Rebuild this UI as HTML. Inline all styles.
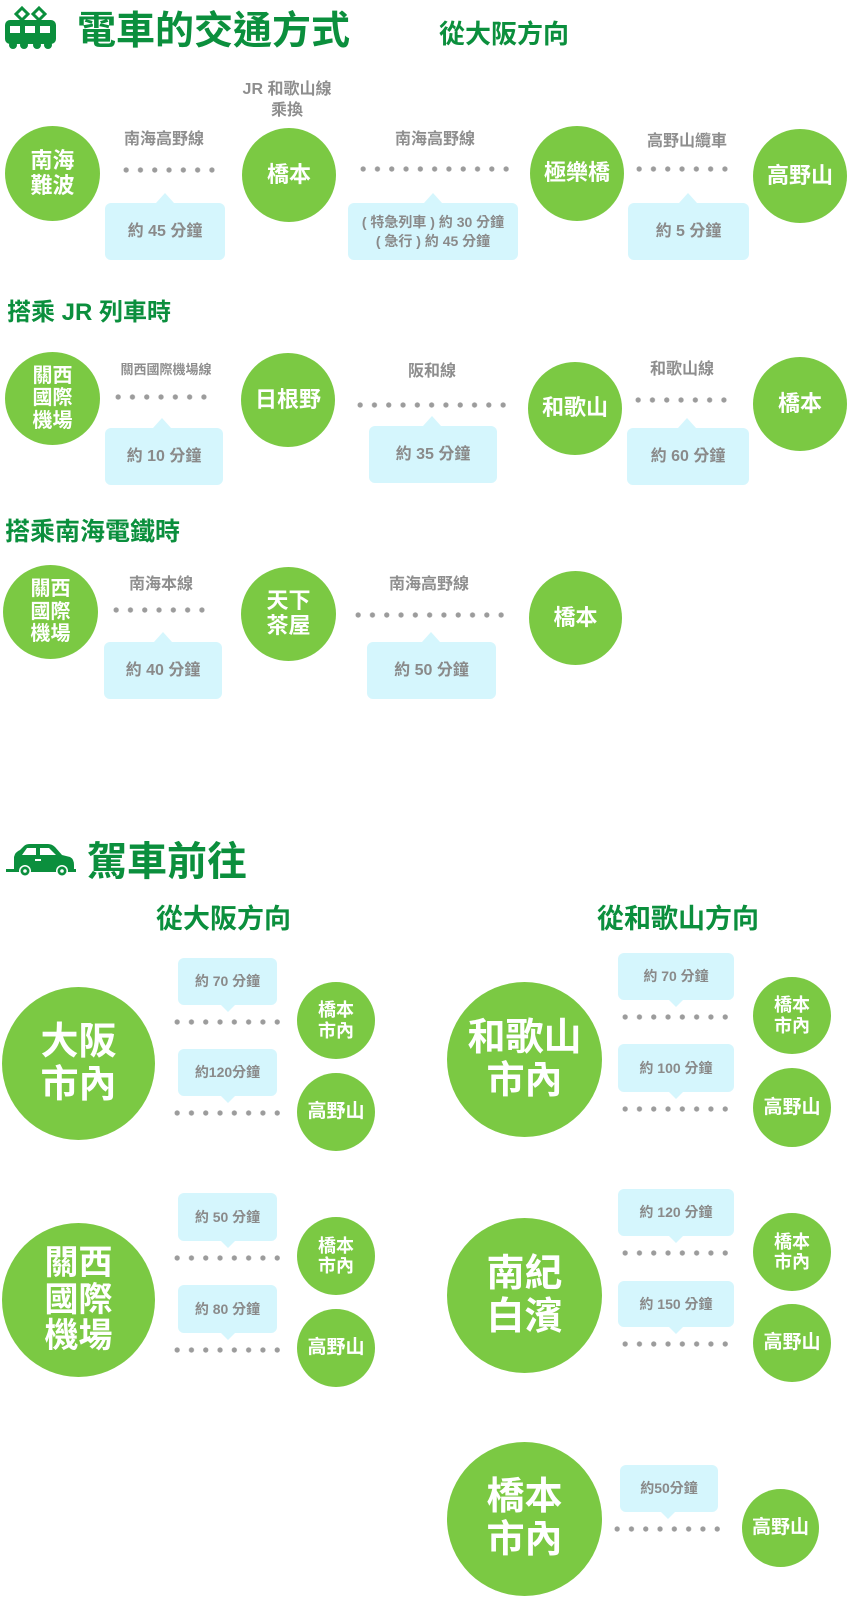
<!DOCTYPE html>
<html><head><meta charset="utf-8">
<style>
*{margin:0;padding:0;box-sizing:border-box}
body{width:847px;height:1602px;background:#fff;position:relative;overflow:hidden;font-family:"Liberation Sans","Noto Sans CJK TC",sans-serif;font-weight:bold}
.a{position:absolute}
.h{position:absolute;color:#0b8f3d;white-space:nowrap;line-height:1}
.c{position:absolute;border-radius:50%;background:#7bc943;color:#fff;display:flex;align-items:center;justify-content:center;text-align:center;line-height:1.12}
.l{position:absolute;color:#8e8e8e;white-space:nowrap;text-align:center;transform:translateX(-50%);font-size:16px;line-height:1.3}
.d{position:absolute;height:6px;background:radial-gradient(circle at center,#9c9c9c 2.3px,transparent 2.9px);background-size:14.3px 6px}
.b{position:absolute;background:#d5f6fd;border-radius:6px;color:#8a8a8a;display:flex;align-items:center;justify-content:center;text-align:center;white-space:nowrap;font-size:16px;line-height:1.35}
.tu{position:absolute;width:0;height:0;border-left:9px solid transparent;border-right:9px solid transparent;border-bottom:10px solid #d5f6fd}
.td{position:absolute;width:0;height:0;border-left:8px solid transparent;border-right:8px solid transparent;border-top:8px solid #d5f6fd}
</style></head><body>

<!-- train icon -->
<svg class="a" style="left:4px;top:5px" width="53" height="44" viewBox="0 0 53 44">
<path d="M18 3 L24 9 L18 15 L12 9 Z M35 3 L41 9 L35 15 L29 9 Z" fill="none" stroke="#0b8f3d" stroke-width="3"/>
<rect x="1" y="15" width="51" height="24" rx="5" fill="#0b8f3d"/>
<rect x="6" y="21" width="10" height="7" fill="#fff"/><rect x="21" y="21" width="10" height="7" fill="#fff"/><rect x="36" y="21" width="10" height="7" fill="#fff"/>
<circle cx="9" cy="40" r="4" fill="#0b8f3d"/><circle cx="20" cy="40" r="4" fill="#0b8f3d"/><circle cx="33" cy="40" r="4" fill="#0b8f3d"/><circle cx="44" cy="40" r="4" fill="#0b8f3d"/>
</svg>
<div class="h" style="left:77px;top:12px;font-size:39px">電車的交通方式</div>
<div class="h" style="left:439px;top:21px;font-size:26px">從大阪方向</div>

<!-- row1 -->
<div class="c" style="left:5px;top:126px;width:95px;height:95px;font-size:22px">南海<br>難波</div>
<div class="c" style="left:242px;top:128px;width:94px;height:94px;font-size:22px">橋本</div>
<div class="c" style="left:530px;top:126px;width:94px;height:95px;font-size:22px">極樂橋</div>
<div class="c" style="left:753px;top:129px;width:94px;height:94px;font-size:22px">高野山</div>
<div class="l" style="left:164px;top:130px">南海高野線</div>
<div class="l" style="left:287px;top:80px">JR 和歌山線<br>乘換</div>
<div class="l" style="left:435px;top:130px">南海高野線</div>
<div class="l" style="left:687px;top:132px">高野山纜車</div>
<div class="d" style="left:119px;top:167px;width:100px"></div>
<div class="d" style="left:356px;top:166px;width:158px"></div>
<div class="d" style="left:632px;top:166px;width:100px"></div>
<div class="tu" style="left:156px;top:193px"></div>
<div class="b" style="left:105px;top:203px;width:120px;height:57px">約 45 分鐘</div>
<div class="tu" style="left:424px;top:193px"></div>
<div class="b" style="left:348px;top:203px;width:170px;height:57px;font-size:14px">( 特急列車 ) 約 30 分鐘<br>( 急行 ) 約 45 分鐘</div>
<div class="tu" style="left:679px;top:193px"></div>
<div class="b" style="left:628px;top:203px;width:121px;height:57px">約 5 分鐘</div>

<!-- row2 -->
<div class="h" style="left:7px;top:301px;font-size:24px">搭乘 JR 列車時</div>
<div class="c" style="left:5px;top:352px;width:95px;height:93px;font-size:20px">關西<br>國際<br>機場</div>
<div class="c" style="left:241px;top:353px;width:94px;height:94px;font-size:22px">日根野</div>
<div class="c" style="left:528px;top:362px;width:94px;height:93px;font-size:22px">和歌山</div>
<div class="c" style="left:753px;top:357px;width:94px;height:94px;font-size:22px">橋本</div>
<div class="l" style="left:166px;top:362px;font-size:13px">關西國際機場線</div>
<div class="l" style="left:432px;top:362px">阪和線</div>
<div class="l" style="left:682px;top:360px">和歌山線</div>
<div class="d" style="left:111px;top:394px;width:100px"></div>
<div class="d" style="left:353px;top:402px;width:157px"></div>
<div class="d" style="left:631px;top:397px;width:100px"></div>
<div class="tu" style="left:153px;top:418px"></div>
<div class="b" style="left:105px;top:428px;width:118px;height:57px">約 10 分鐘</div>
<div class="tu" style="left:423px;top:416px"></div>
<div class="b" style="left:369px;top:426px;width:128px;height:57px">約 35 分鐘</div>
<div class="tu" style="left:678px;top:418px"></div>
<div class="b" style="left:627px;top:428px;width:122px;height:57px">約 60 分鐘</div>

<!-- row3 -->
<div class="h" style="left:5px;top:520px;font-size:25px">搭乘南海電鐵時</div>
<div class="c" style="left:3px;top:565px;width:95px;height:94px;font-size:20px">關西<br>國際<br>機場</div>
<div class="c" style="left:241px;top:567px;width:95px;height:94px;font-size:22px">天下<br>茶屋</div>
<div class="c" style="left:529px;top:571px;width:93px;height:94px;font-size:22px">橋本</div>
<div class="l" style="left:161px;top:575px">南海本線</div>
<div class="l" style="left:429px;top:575px">南海高野線</div>
<div class="d" style="left:109px;top:607px;width:100px"></div>
<div class="d" style="left:351px;top:612px;width:157px"></div>
<div class="tu" style="left:154px;top:632px"></div>
<div class="b" style="left:104px;top:642px;width:118px;height:57px">約 40 分鐘</div>
<div class="tu" style="left:422px;top:632px"></div>
<div class="b" style="left:367px;top:642px;width:129px;height:57px">約 50 分鐘</div>

<!-- driving -->
<svg class="a" style="left:6px;top:843px" width="70" height="36" viewBox="0 0 70 36">
<path d="M8 24 L8 14 Q9 9 14 7 L18 3 Q20 1 24 1 L42 1 Q46 1 49 4 L56 12 L64 14 Q68 16 68 22 L68 26 L8 26 Z" fill="#0b8f3d"/>
<path d="M21 5 L30 5 L30 12 L16 12 Z M34 5 L43 5 L50 12 L34 12 Z" fill="#fff"/>
<rect x="29" y="16" width="6" height="2" fill="#fff"/>
<rect x="0" y="26" width="70" height="3" fill="#0b8f3d"/>
<circle cx="19" cy="28" r="6" fill="#fff"/><circle cx="19" cy="28" r="4.5" fill="#0b8f3d"/><circle cx="19" cy="28" r="1.8" fill="#fff"/>
<circle cx="56" cy="28" r="6" fill="#fff"/><circle cx="56" cy="28" r="4.5" fill="#0b8f3d"/><circle cx="56" cy="28" r="1.8" fill="#fff"/>
</svg>
<div class="h" style="left:87px;top:842px;font-size:40px">駕車前往</div>
<div class="h" style="left:156px;top:906px;font-size:27px">從大阪方向</div>
<div class="h" style="left:597px;top:906px;font-size:27px">從和歌山方向</div>

<!-- left driving -->
<div class="c" style="left:2px;top:987px;width:153px;height:153px;font-size:38px">大阪<br>市內</div>
<div class="c" style="left:2px;top:1223px;width:153px;height:154px;font-size:34px;line-height:1.08">關西<br>國際<br>機場</div>
<div class="b" style="left:178px;top:958px;width:99px;height:47px;font-size:14px">約 70 分鐘</div>
<div class="td" style="left:220px;top:1004px"></div>
<div class="d" style="left:170px;top:1019px;width:115px"></div>
<div class="b" style="left:178px;top:1049px;width:99px;height:47px;font-size:14px">約120分鐘</div>
<div class="td" style="left:220px;top:1095px"></div>
<div class="d" style="left:170px;top:1110px;width:115px"></div>
<div class="c" style="left:297px;top:982px;width:78px;height:77px;font-size:18px">橋本<br>市內</div>
<div class="c" style="left:297px;top:1073px;width:78px;height:78px;font-size:19px">高野山</div>

<div class="b" style="left:178px;top:1193px;width:99px;height:48px;font-size:14px">約 50 分鐘</div>
<div class="td" style="left:220px;top:1240px"></div>
<div class="d" style="left:170px;top:1255px;width:115px"></div>
<div class="b" style="left:178px;top:1285px;width:99px;height:48px;font-size:14px">約 80 分鐘</div>
<div class="td" style="left:220px;top:1332px"></div>
<div class="d" style="left:170px;top:1347px;width:115px"></div>
<div class="c" style="left:297px;top:1217px;width:78px;height:78px;font-size:18px">橋本<br>市內</div>
<div class="c" style="left:297px;top:1309px;width:78px;height:78px;font-size:19px">高野山</div>

<!-- right driving -->
<div class="c" style="left:447px;top:982px;width:155px;height:155px;font-size:38px">和歌山<br>市內</div>
<div class="b" style="left:618px;top:953px;width:116px;height:47px;font-size:14px">約 70 分鐘</div>
<div class="td" style="left:668px;top:999px"></div>
<div class="d" style="left:618px;top:1014px;width:117px"></div>
<div class="b" style="left:618px;top:1044px;width:116px;height:48px;font-size:14px">約 100 分鐘</div>
<div class="td" style="left:668px;top:1091px"></div>
<div class="d" style="left:618px;top:1106px;width:117px"></div>
<div class="c" style="left:753px;top:977px;width:78px;height:77px;font-size:18px">橋本<br>市內</div>
<div class="c" style="left:753px;top:1068px;width:78px;height:79px;font-size:19px">高野山</div>

<div class="c" style="left:447px;top:1218px;width:155px;height:155px;font-size:38px">南紀<br>白濱</div>
<div class="b" style="left:618px;top:1189px;width:116px;height:47px;font-size:14px">約 120 分鐘</div>
<div class="td" style="left:668px;top:1235px"></div>
<div class="d" style="left:618px;top:1250px;width:117px"></div>
<div class="b" style="left:618px;top:1281px;width:116px;height:46px;font-size:14px">約 150 分鐘</div>
<div class="td" style="left:668px;top:1326px"></div>
<div class="d" style="left:618px;top:1341px;width:117px"></div>
<div class="c" style="left:753px;top:1213px;width:78px;height:78px;font-size:18px">橋本<br>市內</div>
<div class="c" style="left:753px;top:1304px;width:78px;height:78px;font-size:19px">高野山</div>

<div class="c" style="left:447px;top:1442px;width:155px;height:154px;font-size:38px">橋本<br>市內</div>
<div class="b" style="left:620px;top:1465px;width:98px;height:47px;font-size:14px">約50分鐘</div>
<div class="td" style="left:660px;top:1511px"></div>
<div class="d" style="left:610px;top:1526px;width:116px"></div>
<div class="c" style="left:742px;top:1489px;width:77px;height:78px;font-size:19px">高野山</div>
</body></html>
